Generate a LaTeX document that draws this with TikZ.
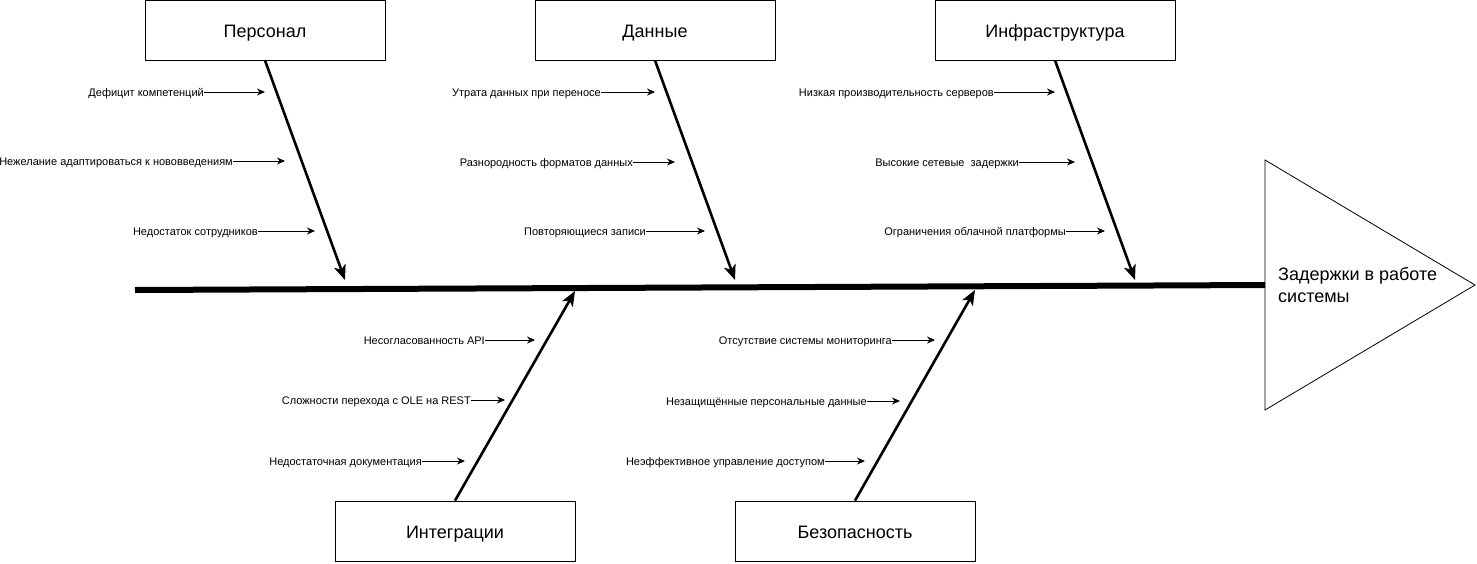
\documentclass[tikz,border=0pt]{standalone}
\usepackage{fontspec}
\setmainfont{Liberation Sans}
\usetikzlibrary{arrows.meta}
\begin{document}
\begin{tikzpicture}[x=1pt,y=-1pt,
  catbox/.style={draw,line width=0.8pt,minimum width=240pt,minimum height=60pt,inner sep=0pt,text height=15pt,text depth=0pt,font=\fontsize{18}{21}\selectfont},
  cause/.style={inner sep=0pt,anchor=east,text height=8pt,text depth=0pt,font=\fontsize{11}{13}\selectfont},
  causearrow/.style={line width=0.9pt,-{Stealth[length=8pt,width=7pt]}},
  bone/.style={line width=2.6pt,-{Stealth[length=15pt,width=12pt,inset=4pt]}},
  spine/.style={line width=6pt}]
\useasboundingbox (0,0) rectangle (1477,563);
% category boxes
\node[catbox] (pers) at (265,30) {Персонал};
\node[catbox] (data) at (655,30) {Данные};
\node[catbox] (infr) at (1055,30) {Инфраструктура};
\node[catbox] (intg) at (455,531) {Интеграции};
\node[catbox] (secu) at (855,531) {Безопасность};
% effect
\coordinate (tA) at (1265,160);
\coordinate (tB) at (1265,410);
\coordinate (tC) at (1475,285);
\draw[line width=0.8pt] (tA) -- (tC) -- (tB) -- cycle;
\node[anchor=west,align=left,inner sep=0pt,font=\fontsize{18}{21.5}\selectfont] (effect) at (1278,285) {Задержки в работе\\системы};
% spine
\coordinate (spL) at (135,290);
\coordinate (spR) at (1265,285);
\draw[spine] (spL) -- (spR);
% bone tips
\coordinate (pT) at (345,280);
\coordinate (dT) at (735,280);
\coordinate (iT) at (1135,280);
\coordinate (gT) at (575,291);
\coordinate (sT) at (975,290);
\draw[bone] (pers.south) -- (pT);
\draw[bone] (data.south) -- (dT);
\draw[bone] (infr.south) -- (iT);
\draw[bone] (intg.north) -- (gT);
\draw[bone] (secu.north) -- (sT);
% causes: Personal
\node[cause] (p1) at (204,92) {Дефицит компетенций};
\node[cause] (p2) at (233,161) {Нежелание адаптироваться к нововведениям};
\node[cause] (p3) at (258,231) {Недостаток сотрудников};
\coordinate (p1e) at (265,92);
\coordinate (p2e) at (285,161);
\coordinate (p3e) at (315,231);
\draw[causearrow] (p1.east) -- (p1e);
\draw[causearrow] (p2.east) -- (p2e);
\draw[causearrow] (p3.east) -- (p3e);
% Data
\node[cause] (d1) at (601,92) {Утрата данных при переносе};
\node[cause] (d2) at (633,162) {Разнородность форматов данных};
\node[cause] (d3) at (646,231) {Повторяющиеся записи};
\coordinate (d1e) at (655,92);
\coordinate (d2e) at (675,162);
\coordinate (d3e) at (705,231);
\draw[causearrow] (d1.east) -- (d1e);
\draw[causearrow] (d2.east) -- (d2e);
\draw[causearrow] (d3.east) -- (d3e);
% Infrastructure
\node[cause] (i1) at (994,92) {Низкая производительность серверов};
\node[cause] (i2) at (1019,162) {Высокие сетевые\ \ задержки};
\node[cause] (i3) at (1066,231) {Ограничения облачной платформы};
\coordinate (i1e) at (1055,92);
\coordinate (i2e) at (1075,162);
\coordinate (i3e) at (1105,231);
\draw[causearrow] (i1.east) -- (i1e);
\draw[causearrow] (i2.east) -- (i2e);
\draw[causearrow] (i3.east) -- (i3e);
% Integration
\node[cause] (g1) at (485,340) {Несогласованность API};
\node[cause] (g2) at (471,400) {Сложности перехода с OLE на REST};
\node[cause] (g3) at (422,461) {Недостаточная документация};
\coordinate (g1e) at (535,340);
\coordinate (g2e) at (505,400);
\coordinate (g3e) at (465,461);
\draw[causearrow] (g1.east) -- (g1e);
\draw[causearrow] (g2.east) -- (g2e);
\draw[causearrow] (g3.east) -- (g3e);
% Security
\node[cause] (s1) at (892,340) {Отсутствие системы мониторинга};
\node[cause] (s2) at (867,401) {Незащищённые персональные данные};
\node[cause] (s3) at (825,461) {Неэффективное управление доступом};
\coordinate (s1e) at (935,340);
\coordinate (s2e) at (900,401);
\coordinate (s3e) at (865,461);
\draw[causearrow] (s1.east) -- (s1e);
\draw[causearrow] (s2.east) -- (s2e);
\draw[causearrow] (s3.east) -- (s3e);
\end{tikzpicture}
\end{document}
